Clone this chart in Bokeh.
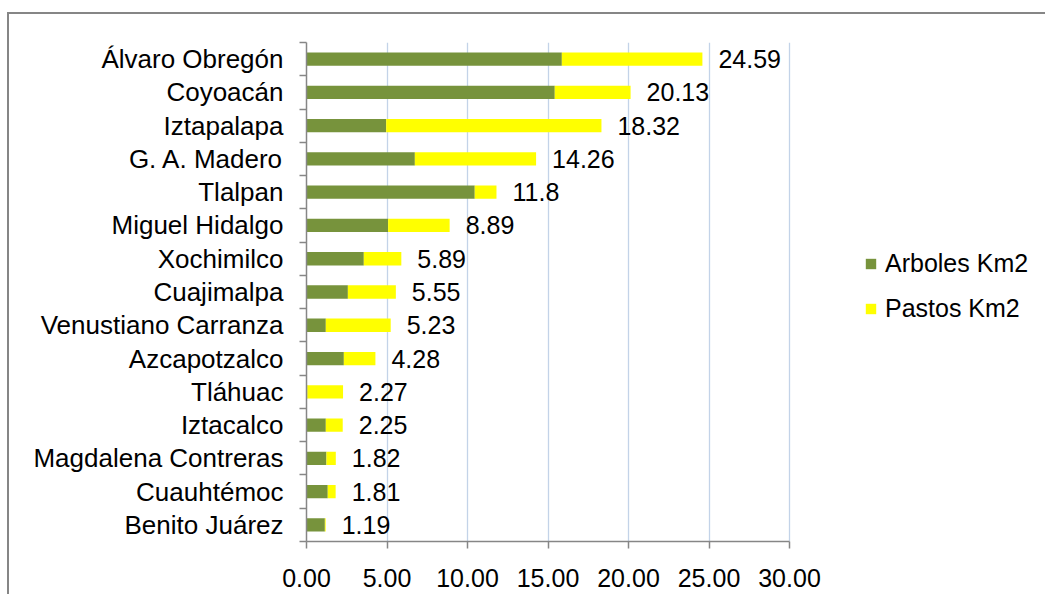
from bokeh.plotting import figure
from bokeh.models import (ColumnDataSource, FixedTicker, Legend, LegendItem,
                          PrintfTickFormatter, Range1d)
from bokeh.core.properties import value
from bokeh.embed import file_html
from bokeh.resources import INLINE

# ---- data (top to bottom as shown) ----
delegaciones = ["Álvaro Obregón", "Coyoacán", "Iztapalapa", "G. A. Madero", "Tlalpan",
                "Miguel Hidalgo", "Xochimilco", "Cuajimalpa", "Venustiano Carranza",
                "Azcapotzalco", "Tláhuac", "Iztacalco", "Magdalena Contreras",
                "Cuauhtémoc", "Benito Juárez"]
arboles = [15.86, 15.42, 4.95, 6.73, 10.45, 5.07, 3.56, 2.57, 1.20, 2.32, 0.05, 1.20, 1.24, 1.32, 1.14]
pastos = [8.73, 4.71, 13.37, 7.53, 1.35, 3.82, 2.33, 2.98, 4.03, 1.96, 2.22, 1.05, 0.58, 0.49, 0.05]
totales = [24.59, 20.13, 18.32, 14.26, 11.8, 8.89, 5.89, 5.55, 5.23, 4.28, 2.27, 2.25, 1.82, 1.81, 1.19]
series = ["Arboles Km2", "Pastos Km2"]
x_ticks = [0, 5, 10, 15, 20, 25, 30]

n = len(delegaciones)
ypos = [n - 1 - i + 0.5 for i in range(n)]

source = ColumnDataSource(dict(
    y=ypos, arboles=arboles, pastos=pastos, total=totales,
    label=[str(t) for t in totales], name=delegaciones))

FONT = "Liberation Sans"
AX = "#868686"

# layout (pixels)
W, H = 1038, 582
LEFT, TOP, BOTTOM = 297, 28, 55
frame_w = W - LEFT
px_per_unit = 483 / 30.0          # axis 0..30 spans 483 px
x_end = frame_w / px_per_unit     # frame extends to the right edge (room for legend)

p = figure(width=W, height=H, output_backend="svg", toolbar_location=None,
           x_range=Range1d(0, x_end), y_range=Range1d(0, n),
           min_border_left=LEFT, min_border_right=0, min_border_top=TOP,
           min_border_bottom=BOTTOM)
p.styles = {"margin-left": "7px", "margin-top": "12px",
            "border-top": "2px solid #868686", "border-left": "2px solid #868686"}
p.outline_line_color = None
p.background_fill_color = "white"
p.border_fill_color = "white"

rs = p.hbar_stack(["arboles", "pastos"], y="y", height=0.4, source=source,
                  color=["#77933c", "#ffff00"], line_color=None)

p.text(x="total", y="y", text="label", source=source, x_offset=16,
       text_baseline="middle", text_align="left", text_font_size="25px",
       text_font=value(FONT), text_color="black")

# grid
p.ygrid.grid_line_color = None
p.xgrid.grid_line_color = "#c3d3e8"
p.xgrid.grid_line_width = 1.3
p.xgrid.ticker = FixedTicker(ticks=x_ticks)

# x axis
xa = p.xaxis[0]
xa.bounds = (x_ticks[0], x_ticks[-1])
xa.ticker = FixedTicker(ticks=x_ticks)
xa.formatter = PrintfTickFormatter(format="%.2f")
xa.axis_line_color = AX
xa.axis_line_width = 1.5
xa.major_tick_line_color = AX
xa.major_tick_line_width = 1.5
xa.major_tick_in = 0
xa.major_tick_out = 7
xa.minor_tick_line_color = None
xa.major_label_text_font = FONT
xa.major_label_text_font_size = "25px"
xa.major_label_text_color = "black"
xa.major_label_standoff = 20

# y axis
ya = p.yaxis[0]
ya.ticker = FixedTicker(ticks=ypos, minor_ticks=list(range(n + 1)))
ya.major_label_overrides = {y: name for y, name in zip(ypos, delegaciones)}
ya.axis_line_color = AX
ya.axis_line_width = 1.5
ya.major_tick_line_color = None
ya.major_tick_in = 0
ya.major_tick_out = 0
ya.minor_tick_line_color = AX
ya.minor_tick_line_width = 1.5
ya.minor_tick_in = 0
ya.minor_tick_out = 7
ya.major_label_text_font = FONT
ya.major_label_text_font_size = "26px"
ya.major_label_text_color = "black"
ya.major_label_standoff = 16

legend = Legend(items=[LegendItem(label=series[0], renderers=[rs[0]]),
                       LegendItem(label=series[1], renderers=[rs[1]])],
                location=(558, 218))
legend.glyph_width = 13
legend.glyph_height = 13
legend.label_text_font = FONT
legend.label_text_font_size = "25px"
legend.label_text_color = "black"
legend.label_standoff = 8
legend.spacing = 16
legend.padding = 0
legend.margin = 0
legend.border_line_color = None
legend.background_fill_alpha = 0
p.add_layout(legend, "center")

open("out.html", "w").write(file_html(p, INLINE))
